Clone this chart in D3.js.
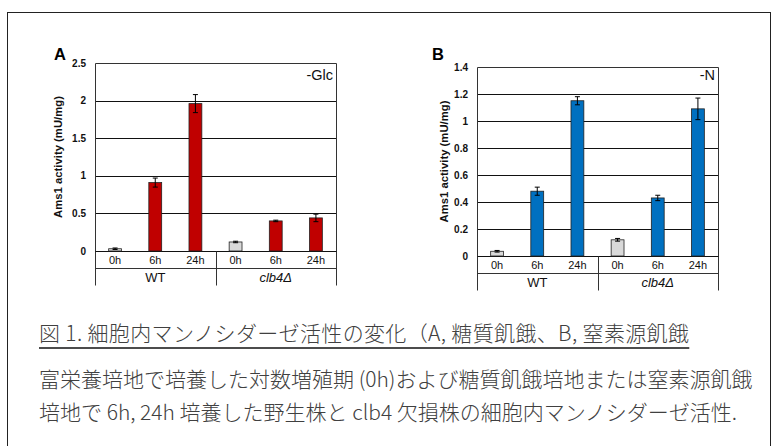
<!DOCTYPE html>
<html><head><meta charset="utf-8">
<script src="https://cdn.jsdelivr.net/npm/d3@7"></script>
<style>body{margin:0;background:#fff}svg{display:block}</style>
</head><body>
<svg id="c" width="776" height="446"></svg>
<script>
const categories = ["0h","6h","24h","0h","6h","24h"];
const strains = ["WT","clb4Δ"];
const glcValues = [0.03, 0.91, 1.96, 0.12, 0.40, 0.44];
const glcErrors = [0.01, 0.06, 0.12, 0.01, 0.01, 0.05];
const nValues = [0.035, 0.48, 1.15, 0.12, 0.43, 1.09];
const nErrors = [0.006, 0.03, 0.03, 0.01, 0.02, 0.08];
const glcTicks = [0, 0.5, 1, 1.5, 2, 2.5];
const nTicks = [0, 0.2, 0.4, 0.6, 0.8, 1, 1.2, 1.4];
const yTitle = "Ams1 activity (mU/mg)";
const captionLines = [
  "図 1. 細胞内マンノシダーゼ活性の変化（A, 糖質飢餓、B, 窒素源飢餓",
  "富栄養培地で培養した対数増殖期 (0h)および糖質飢餓培地または窒素源飢餓",
  "培地で 6h, 24h 培養した野生株と clb4 欠損株の細胞内マンノシダーゼ活性."
];

const svg = d3.select("#c");
svg.append("rect").attr("x",7.5).attr("y",12.5).attr("width",763).attr("height",445)
  .attr("fill","none").attr("stroke","#222").attr("stroke-width",1);

function panel(opt){
  const {left,right,top,zero,values,errors,ticks,color,letter,cond,titleX,letterX} = opt;
  const g = svg.append("g");
  const x = d3.scaleBand().domain(d3.range(categories.length)).range([left,right]).paddingInner(0.68).paddingOuter(0.34);
  const y = d3.scaleLinear().domain([0, ticks[ticks.length-1]]).range([zero, top]);
  const catRow = 17, grpRow = 17;
  g.selectAll(".grid").data(ticks.slice(1,-1)).join("line")
    .attr("x1",left).attr("x2",right).attr("y1",d=>Math.round(y(d))+0.5).attr("y2",d=>Math.round(y(d))+0.5)
    .attr("stroke","#111").attr("stroke-width",1);
  const T = Math.round(top)+0.5, Z = Math.round(zero)+0.5, L = Math.round(left)+0.5, R = Math.round(right)+0.5;
  const bottom = Z + catRow + grpRow;
  g.append("path").attr("d",`M${L},${bottom}V${T}H${R}V${bottom}`).attr("fill","none").attr("stroke","#333");
  g.append("line").attr("x1",L).attr("x2",R).attr("y1",Z).attr("y2",Z).attr("stroke","#111");
  g.append("line").attr("x1",L).attr("x2",R).attr("y1",Z+catRow).attr("y2",Z+catRow).attr("stroke","#333");
  const sep = Math.round((left+right)/2)+0.5;
  g.append("line").attr("x1",sep).attr("x2",sep).attr("y1",Z).attr("y2",bottom).attr("stroke","#333");
  g.selectAll(".tl").data(ticks).join("text")
    .attr("x",left-9).attr("y",d=>y(d)+3.5).attr("text-anchor","end")
    .attr("font-family","Liberation Sans, Arial, sans-serif").attr("font-weight","bold").attr("font-size",10)
    .attr("fill","#111").text(d=>d);
  g.append("text").attr("transform",`translate(${titleX},${(top+zero)/2}) rotate(-90)`)
    .attr("text-anchor","middle").attr("font-family","Liberation Sans, Arial, sans-serif")
    .attr("font-weight","bold").attr("font-size",11.3).attr("fill","#111").text(yTitle);
  g.selectAll(".bar").data(values).join("rect")
    .attr("x",(d,i)=>x(i)).attr("width",x.bandwidth())
    .attr("y",d=>y(d)).attr("height",d=>zero-y(d))
    .attr("fill",(d,i)=>categories[i]==="0h"?"#d9d9d9":color)
    .attr("stroke","#222").attr("stroke-width",0.8);
  const eg = g.selectAll(".err").data(values).join("g");
  eg.append("line").attr("x1",(d,i)=>x(i)+x.bandwidth()/2).attr("x2",(d,i)=>x(i)+x.bandwidth()/2)
    .attr("y1",(d,i)=>y(d+errors[i])).attr("y2",(d,i)=>y(d-errors[i])).attr("stroke","#000").attr("stroke-width",1);
  [1,-1].forEach(s=>{
    eg.append("line").attr("x1",(d,i)=>x(i)+x.bandwidth()/2-2.5).attr("x2",(d,i)=>x(i)+x.bandwidth()/2+2.5)
      .attr("y1",(d,i)=>y(d+s*errors[i])).attr("y2",(d,i)=>y(d+s*errors[i])).attr("stroke","#000").attr("stroke-width",1);
  });
  g.selectAll(".cl").data(categories).join("text")
    .attr("x",(d,i)=>x(i)+x.bandwidth()/2).attr("y",Z+12.5).attr("text-anchor","middle")
    .attr("font-family","Liberation Sans, Arial, sans-serif").attr("font-size",11).attr("fill","#111").text(d=>d);
  const gx = d3.scaleBand().domain(strains).range([left,right]);
  g.selectAll(".sl").data(strains).join("text")
    .attr("x",d=>gx(d)+gx.bandwidth()/2).attr("y",Z+catRow+13.5).attr("text-anchor","middle")
    .attr("font-family","Liberation Sans, Arial, sans-serif").attr("font-size",13).attr("fill","#111")
    .attr("font-style",(d,i)=>i===1?"italic":"normal").text(d=>d);
  g.append("text").attr("x",letterX).attr("y",60).attr("font-family","Liberation Sans, Arial, sans-serif")
    .attr("font-weight","bold").attr("font-size",16.5).attr("fill","#000").text(letter);
  g.append("text").attr("x",right-3).attr("y",80).attr("text-anchor","end")
    .attr("font-family","Liberation Sans, Arial, sans-serif").attr("font-size",14.5).attr("fill","#111").text(cond);
}

panel({left:95,right:336,top:63,zero:251,values:glcValues,errors:glcErrors,ticks:glcTicks,
  color:"#c00000",letter:"A",cond:"-Glc",titleX:62,letterX:54});
panel({left:477,right:718,top:67,zero:256,values:nValues,errors:nErrors,ticks:nTicks,
  color:"#0070c0",letter:"B",cond:"-N",titleX:448,letterX:432});

const cap = svg.append("g").attr("font-family","Noto Sans CJK JP, sans-serif").attr("font-weight",300).attr("fill","#404040");
const capY = [341, 387, 420];
cap.selectAll("text").data(captionLines).join("text")
  .attr("x",39).attr("y",(d,i)=>capY[i]).attr("font-size",21)
  .attr("letter-spacing",(d,i)=>i===0?"0.35px":null).text(d=>d);
const firstW = cap.select("text").node().getComputedTextLength();
svg.append("line").attr("x1",39).attr("x2",39+firstW).attr("y1",348).attr("y2",348)
  .attr("stroke","#111").attr("stroke-width",1.5);
</script>
</body></html>
